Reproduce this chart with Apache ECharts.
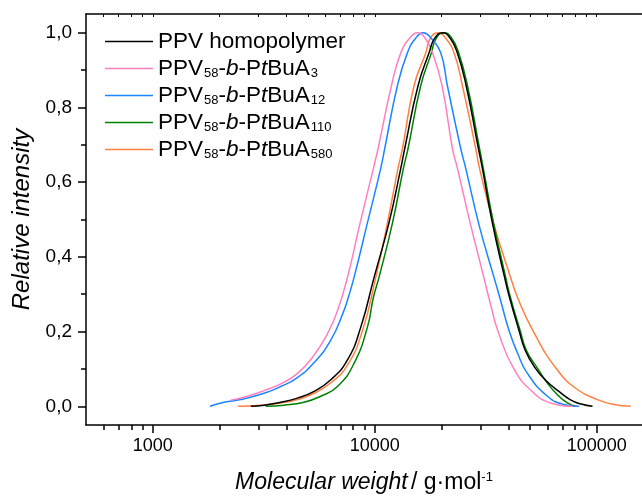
<!DOCTYPE html>
<html>
<head>
<meta charset="utf-8">
<script src="https://cdn.jsdelivr.net/npm/echarts@6/dist/echarts.min.js"></script>
<style>
  html, body { margin: 0; padding: 0; background: #fff; }
  #chart { width: 642px; height: 499px; }
</style>
</head>
<body>
<div id="chart"></div>
<script>
// [molecular weight (g/mol), relative intensity]
const homopolymer = [
  [2763, 0], [3172, 0.003], [3772, 0.011], [4484, 0.022], [5329, 0.040], [6337, 0.071],
  [7534, 0.124], [8650, 0.212], [9931, 0.345], [11590, 0.491], [13100, 0.637], [13650, 0.690],
  [15670, 0.858], [17570, 0.946], [18620, 0.985], [20180, 1.0], [21880, 0.985], [23550, 0.946],
  [25820, 0.858], [29310, 0.690], [30550, 0.637], [33880, 0.491], [38460, 0.345], [40460, 0.292],
  [44670, 0.203], [47640, 0.150], [52480, 0.105], [58880, 0.070], [67610, 0.040], [75860, 0.018],
  [85110, 0.006], [95720, 0]
];
const ptbua3 = [
  [2246, 0.016], [2670, 0.027], [3172, 0.042], [3772, 0.060], [4484, 0.088], [5329, 0.137],
  [6120, 0.194], [6792, 0.256], [7534, 0.345], [8590, 0.491], [9863, 0.637], [10350, 0.690],
  [11890, 0.858], [13100, 0.946], [14360, 0.985], [15560, 1.0], [16870, 0.985], [18200, 0.946],
  [20100, 0.858], [22390, 0.690], [23580, 0.637], [27060, 0.485], [31000, 0.345], [33340, 0.270],
  [35730, 0.205], [42360, 0.100], [52210, 0.035], [62080, 0.009], [77790, 0]
];
const ptbua12 = [
  [1811, 0], [2096, 0.011], [2490, 0.018], [3172, 0.035], [3772, 0.053], [4484, 0.077],
  [5329, 0.117], [6337, 0.177], [7200, 0.250], [7586, 0.290], [8067, 0.345], [9268, 0.491],
  [10640, 0.637], [11090, 0.690], [12650, 0.858], [14030, 0.946], [15280, 0.985], [16570, 1.0],
  [17950, 0.985], [19830, 0.946], [21250, 0.858], [24400, 0.690], [25700, 0.637], [29510, 0.485],
  [34460, 0.345], [36560, 0.292], [40270, 0.203], [44160, 0.140], [48730, 0.088], [59970, 0.027],
  [71260, 0.005], [83190, 0]
];
const ptbua110 = [
  [3228, 0], [3902, 0.003], [4805, 0.011], [5709, 0.027], [6792, 0.053], [8067, 0.115],
  [9268, 0.212], [9863, 0.292], [10450, 0.345], [12020, 0.491], [13460, 0.637], [14130, 0.690],
  [16110, 0.858], [18000, 0.946], [18920, 0.985], [20510, 1.0], [22230, 0.985], [23880, 0.946],
  [26180, 0.858], [29650, 0.690], [30830, 0.637], [34280, 0.491], [38900, 0.345], [40830, 0.292],
  [45190, 0.203], [48190, 0.150], [54330, 0.100], [60260, 0.060], [66830, 0.030], [73790, 0.009],
  [80350, 0]
];
const ptbua580 = [
  [2423, 0], [3065, 0.003], [3772, 0.009], [4484, 0.018], [5329, 0.035], [6337, 0.063],
  [7534, 0.110], [8806, 0.203], [10104, 0.345], [11410, 0.491], [12730, 0.637], [13330, 0.690],
  [15030, 0.858], [16980, 0.946], [17780, 0.985], [19280, 1.0], [20890, 0.985], [22760, 0.946],
  [24830, 0.858], [28510, 0.690], [29650, 0.637], [34260, 0.491], [40930, 0.345], [43950, 0.292],
  [51520, 0.203], [66520, 0.097], [81860, 0.045], [100700, 0.018], [119700, 0.005], [142300, 0]
];

const seriesNames = ['PPV homopolymer', 'PPV58-b-PtBuA3', 'PPV58-b-PtBuA12', 'PPV58-b-PtBuA110', 'PPV58-b-PtBuA580'];
const seriesColors = ['#000000', '#ff80c0', '#1a86ff', '#008000', '#ff8040'];
const seriesData = [homopolymer, ptbua3, ptbua12, ptbua110, ptbua580];

const xMajorTicks = [1000, 10000, 100000];
const xMinorTicks = [600, 700, 800, 900, 2000, 3000, 4000, 5000, 6000, 7000, 8000, 9000,
  20000, 30000, 40000, 50000, 60000, 70000, 80000, 90000];
const yMajorTicks = [0, 0.2, 0.4, 0.6, 0.8, 1.0];
const yMinorTicks = [0.1, 0.3, 0.5, 0.7, 0.9];

const FONT = 'Liberation Sans';
const axisColor = '#000';
const lg = Math.log10;

const legendLabel = (name) => {
  if (name === 'PPV homopolymer') return '{n|PPV homopolymer}';
  const n = name.replace('PPV58-b-PtBuA', '');
  return '{n|PPV}{s|58}{n|-}{i|b}{n|-P}{i|t}{n|BuA}{s|' + n + '}';
};

const chart = echarts.init(document.getElementById('chart'));

// x is plotted on log10(M) so the decade ticks can be placed exactly
const xBase = { type: 'value', min: lg(500), max: lg(160000) };
const yBase = { type: 'value', min: -0.05, max: 1.05 };

chart.setOption({
  animation: false,
  backgroundColor: '#fff',
  grid: { left: 86, right: 0, top: 14, bottom: 69, containLabel: false },
  legend: {
    orient: 'vertical',
    left: 100,
    top: 25,
    icon: 'rect',
    itemWidth: 48,
    itemHeight: 1.6,
    itemGap: 4,
    itemStyle: { borderWidth: 0 },
    data: seriesNames,
    formatter: legendLabel,
    textStyle: {
      fontFamily: FONT,
      color: '#000',
      rich: {
        n: { fontFamily: FONT, fontSize: 22.5, color: '#000', lineHeight: 22 },
        i: { fontFamily: FONT, fontSize: 22.5, fontStyle: 'italic', color: '#000', lineHeight: 22 },
        s: { fontFamily: FONT, fontSize: 13, color: '#000', lineHeight: 13, verticalAlign: 'bottom', padding: [0, 0, 0, 1] }
      }
    }
  },
  xAxis: [
    Object.assign({}, xBase, {
      position: 'bottom',
      axisLine: { show: true, onZero: false, lineStyle: { color: axisColor, width: 1.5 } },
      axisTick: { show: true, inside: false, length: 8, customValues: xMajorTicks.map(lg), lineStyle: { color: axisColor, width: 1.5 } },
      axisLabel: {
        show: true, customValues: xMajorTicks.map(lg), fontFamily: FONT, fontSize: 18, color: '#000', margin: 12,
        formatter: (v) => String(Math.round(Math.pow(10, v)))
      },
      splitLine: { show: false },
      name: '{i|Molecular weight} {n|/ g·mol}{sup|-1}',
      nameLocation: 'middle',
      nameGap: 46,
      nameTextStyle: {
        rich: {
          i: { fontFamily: FONT, fontSize: 23, fontStyle: 'italic', color: '#000' },
          n: { fontFamily: FONT, fontSize: 23, color: '#000' },
          sup: { fontFamily: FONT, fontSize: 13, color: '#000', verticalAlign: 'top', lineHeight: 13, padding: [0, 0, 10, 0] }
        }
      }
    }),
    Object.assign({}, xBase, {
      position: 'bottom',
      axisLine: { show: false, onZero: false },
      axisTick: { show: true, inside: false, length: 5, customValues: xMinorTicks.map(lg), lineStyle: { color: axisColor, width: 1.5 } },
      axisLabel: { show: false },
      splitLine: { show: false }
    }),
    Object.assign({}, xBase, {
      position: 'top',
      axisLine: { show: true, onZero: false, lineStyle: { color: axisColor, width: 1.5 } },
      axisTick: { show: true, inside: true, length: 3, customValues: xMinorTicks.concat(xMajorTicks).map(lg), lineStyle: { color: axisColor, width: 1 } },
      axisLabel: { show: false },
      splitLine: { show: false }
    })
  ],
  yAxis: [
    Object.assign({}, yBase, {
      position: 'left',
      axisLine: { show: true, onZero: false, lineStyle: { color: axisColor, width: 1.5 } },
      axisTick: { show: true, inside: false, length: 8, customValues: yMajorTicks, lineStyle: { color: axisColor, width: 1.5 } },
      axisLabel: {
        show: true, customValues: yMajorTicks, fontFamily: FONT, fontSize: 19, color: '#000', margin: 14,
        formatter: (v) => v.toFixed(1).replace('.', ',')
      },
      splitLine: { show: false },
      name: 'Relative intensity',
      nameLocation: 'middle',
      nameGap: 42,
      nameRotate: 90,
      nameTextStyle: { fontFamily: FONT, fontSize: 24, fontStyle: 'italic', color: '#000' }
    }),
    Object.assign({}, yBase, {
      position: 'left',
      axisLine: { show: false, onZero: false },
      axisTick: { show: true, inside: false, length: 5, customValues: yMinorTicks, lineStyle: { color: axisColor, width: 1.5 } },
      axisLabel: { show: false },
      splitLine: { show: false }
    })
  ],
  series: seriesData.map((d, i) => ({
    name: seriesNames[i],
    type: 'line',
    xAxisIndex: 0,
    yAxisIndex: 0,
    data: d.map((p) => [lg(p[0]), p[1]]),
    symbol: 'none',
    smooth: 0.5,
    color: seriesColors[i],
    lineStyle: { color: seriesColors[i], width: 1.5 },
    z: 10 - i
  }))
});
</script>
</body>
</html>
